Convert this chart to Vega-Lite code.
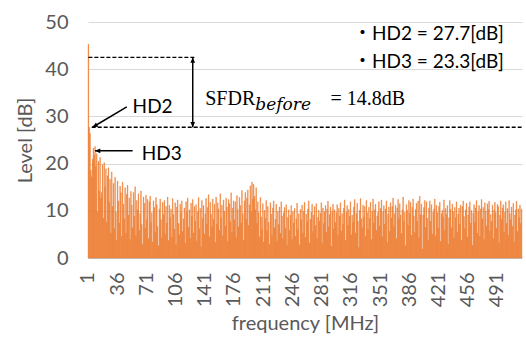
{
"$schema": "https://vega.github.io/schema/vega-lite/v6.json",
"width": 434, "height": 236,
"autosize": {"type": "none"},
"padding": {"left": 88, "top": 22, "right": 4, "bottom": 87},
"background": "white",
"config": {"view": {"stroke": null}, "font": "Lato"},
"layer": [
{"data": {"values": [
{"f":1,"v":45.3},{"f":2,"v":27.7},{"f":3,"v":26.4},{"f":4,"v":18.6},{"f":5,"v":17.2},{"f":6,"v":20.9},{"f":7,"v":23.3},{"f":8,"v":21.8},{"f":9,"v":23.6},{"f":10,"v":19.4},
{"f":11,"v":22.1},{"f":12,"v":9.8},{"f":13,"v":20.5},{"f":14,"v":14.2},{"f":15,"v":21.3},{"f":16,"v":12.7},{"f":17,"v":13.9},{"f":18,"v":19.8},{"f":19,"v":8.4},{"f":20,"v":20.2},
{"f":21,"v":15.1},{"f":22,"v":18.9},{"f":23,"v":7.6},{"f":24,"v":17.4},{"f":25,"v":19.1},{"f":26,"v":11.8},{"f":27,"v":16.7},{"f":28,"v":5.3},{"f":29,"v":18.2},
{"f":30,"v":10.9},{"f":31,"v":15.8},{"f":32,"v":6.2},{"f":33,"v":17.1},{"f":34,"v":9.7},{"f":35,"v":3.8},{"f":36,"v":16.3},{"f":37,"v":12.1},{"f":38,"v":7.4},{"f":39,"v":15.2},
{"f":40,"v":13.8},{"f":41,"v":4.6},{"f":42,"v":16.1},{"f":43,"v":11.4},{"f":44,"v":8.3},{"f":45,"v":14.9},{"f":46,"v":5.2},{"f":47,"v":13.5},{"f":48,"v":15.4},{"f":49,"v":9.1},
{"f":50,"v":12.7},{"f":51,"v":3.9},{"f":52,"v":14.1},{"f":53,"v":11.2},{"f":54,"v":6.4},{"f":55,"v":13.9},{"f":56,"v":8.8},{"f":57,"v":15.1},{"f":58,"v":4.7},{"f":59,"v":12.2},
{"f":60,"v":10.3},{"f":61,"v":13.6},{"f":62,"v":5.8},{"f":63,"v":9.4},{"f":64,"v":14.2},{"f":65,"v":7.1},{"f":66,"v":2.9},{"f":67,"v":12.9},{"f":68,"v":11.6},{"f":69,"v":6.3},
{"f":70,"v":13.3},{"f":71,"v":8.2},{"f":72,"v":12.4},{"f":73,"v":4.1},{"f":74,"v":11.9},{"f":75,"v":13.1},{"f":76,"v":7.6},{"f":77,"v":9.6},{"f":78,"v":3.4},{"f":79,"v":12.1},
{"f":80,"v":10.7},{"f":81,"v":5.5},{"f":82,"v":12.8},{"f":83,"v":11.3},{"f":84,"v":6.7},{"f":85,"v":2.6},{"f":86,"v":10.4},{"f":87,"v":12.5},{"f":88,"v":8.1},{"f":89,"v":4.3},
{"f":90,"v":11.8},{"f":91,"v":9.2},{"f":92,"v":12.2},{"f":93,"v":5.1},{"f":94,"v":10.9},{"f":95,"v":7.4},{"f":96,"v":12.9},{"f":97,"v":3.7},{"f":98,"v":11.2},{"f":99,"v":8.6},
{"f":100,"v":10.3},{"f":101,"v":4.4},{"f":102,"v":12.6},{"f":103,"v":9.2},{"f":104,"v":6.1},{"f":105,"v":11.7},{"f":106,"v":2.8},{"f":107,"v":10.8},{"f":108,"v":12.3},{"f":109,"v":7.3},
{"f":110,"v":4.9},{"f":111,"v":11.4},{"f":112,"v":9.5},{"f":113,"v":12.1},{"f":114,"v":5.6},{"f":115,"v":8.3},{"f":116,"v":10.6},{"f":117,"v":3.1},{"f":118,"v":11.9},{"f":119,"v":9.7},
{"f":120,"v":12.7},{"f":121,"v":6.5},{"f":122,"v":10.2},{"f":123,"v":4.2},{"f":124,"v":11.6},{"f":125,"v":8.9},{"f":126,"v":12.4},{"f":127,"v":5.3},{"f":128,"v":10.9},{"f":129,"v":7.8},
{"f":130,"v":11.3},{"f":131,"v":3.6},{"f":132,"v":9.8},{"f":133,"v":12.8},{"f":134,"v":6.2},{"f":135,"v":10.5},{"f":136,"v":2.4},{"f":137,"v":12.2},{"f":138,"v":8.4},{"f":139,"v":11.1},
{"f":140,"v":5.1},{"f":141,"v":9.4},{"f":142,"v":12.6},{"f":143,"v":7.2},{"f":144,"v":10.7},{"f":145,"v":13.4},{"f":146,"v":4.5},{"f":147,"v":11.8},{"f":148,"v":9.3},{"f":149,"v":6.6},
{"f":150,"v":12.5},{"f":151,"v":8.2},{"f":152,"v":11.4},{"f":153,"v":3.3},{"f":154,"v":12.9},{"f":155,"v":7.1},{"f":156,"v":11.7},{"f":157,"v":10.4},{"f":158,"v":5.9},{"f":159,"v":13.6},
{"f":160,"v":8.5},{"f":161,"v":11.2},{"f":162,"v":4.7},{"f":163,"v":12.3},{"f":164,"v":9.9},{"f":165,"v":6.8},{"f":166,"v":12.7},{"f":167,"v":10.8},{"f":168,"v":3.5},{"f":169,"v":12.4},
{"f":170,"v":11.5},{"f":171,"v":7.7},{"f":172,"v":13.8},{"f":173,"v":5.4},{"f":174,"v":10.6},{"f":175,"v":12.1},{"f":176,"v":8.1},{"f":177,"v":11.9},{"f":178,"v":4.3},{"f":179,"v":13.2},
{"f":180,"v":10.3},{"f":181,"v":6.6},{"f":182,"v":12.8},{"f":183,"v":11.1},{"f":184,"v":7.4},{"f":185,"v":14.3},{"f":186,"v":9.4},{"f":187,"v":3.8},{"f":188,"v":12.1},{"f":189,"v":13.9},
{"f":190,"v":8.2},{"f":191,"v":12.7},{"f":192,"v":14.4},{"f":193,"v":6.9},{"f":194,"v":11.3},{"f":195,"v":15.3},{"f":196,"v":9.8},{"f":197,"v":16.1},{"f":198,"v":12.5},{"f":199,"v":15.6},
{"f":200,"v":13.1},{"f":201,"v":10.2},{"f":202,"v":14.9},{"f":203,"v":7.3},{"f":204,"v":11.9},{"f":205,"v":9.6},{"f":206,"v":4.5},{"f":207,"v":12.8},{"f":208,"v":8.7},{"f":209,"v":6.1},
{"f":210,"v":11.5},{"f":211,"v":3.4},{"f":212,"v":10.1},{"f":213,"v":8.4},{"f":214,"v":12.2},{"f":215,"v":5.7},{"f":216,"v":10.9},{"f":217,"v":7.6},{"f":218,"v":2.9},{"f":219,"v":11.7},
{"f":220,"v":9.3},{"f":221,"v":4.8},{"f":222,"v":10.6},{"f":223,"v":12.1},{"f":224,"v":6.4},{"f":225,"v":8.2},{"f":226,"v":11.4},{"f":227,"v":3.6},{"f":228,"v":9.9},{"f":229,"v":7.1},
{"f":230,"v":10.8},{"f":231,"v":5.2},{"f":232,"v":11.9},{"f":233,"v":8.9},{"f":234,"v":4.1},{"f":235,"v":9.6},{"f":236,"v":10.7},{"f":237,"v":6.3},{"f":238,"v":11.3},{"f":239,"v":2.7},
{"f":240,"v":8.6},{"f":241,"v":10.2},{"f":242,"v":5.9},{"f":243,"v":9.1},{"f":244,"v":11.1},{"f":245,"v":3.9},{"f":246,"v":9.8},{"f":247,"v":7.4},{"f":248,"v":10.5},{"f":249,"v":4.6},
{"f":250,"v":8.3},{"f":251,"v":11.6},{"f":252,"v":6.1},{"f":253,"v":9.4},{"f":254,"v":2.8},{"f":255,"v":10.3},{"f":256,"v":8.1},{"f":257,"v":11.2},{"f":258,"v":5.3},{"f":259,"v":9.9},
{"f":260,"v":11.8},{"f":261,"v":4.4},{"f":262,"v":9.3},{"f":263,"v":7.7},{"f":264,"v":10.4},{"f":265,"v":12.1},{"f":266,"v":3.2},{"f":267,"v":8.2},{"f":268,"v":9.7},{"f":269,"v":11.4},
{"f":270,"v":5.6},{"f":271,"v":9.1},{"f":272,"v":10.9},{"f":273,"v":6.9},{"f":274,"v":11.5},{"f":275,"v":4.2},{"f":276,"v":8.6},{"f":277,"v":10.1},{"f":278,"v":7.8},{"f":279,"v":9.5},
{"f":280,"v":11.7},{"f":281,"v":3.1},{"f":282,"v":10.6},{"f":283,"v":7.3},{"f":284,"v":9.8},{"f":285,"v":11.1},{"f":286,"v":5.4},{"f":287,"v":10.4},{"f":288,"v":12.0},{"f":289,"v":6.6},
{"f":290,"v":9.2},{"f":291,"v":10.8},{"f":292,"v":2.5},{"f":293,"v":9.9},{"f":294,"v":11.4},{"f":295,"v":6.2},{"f":296,"v":10.2},{"f":297,"v":7.5},{"f":298,"v":9.6},{"f":299,"v":11.3},
{"f":300,"v":4.8},{"f":301,"v":10.5},{"f":302,"v":8.9},{"f":303,"v":11.7},{"f":304,"v":5.7},{"f":305,"v":9.4},{"f":306,"v":7.2},{"f":307,"v":10.6},{"f":308,"v":12.3},{"f":309,"v":3.7},
{"f":310,"v":9.7},{"f":311,"v":11.1},{"f":312,"v":6.9},{"f":313,"v":10.3},{"f":314,"v":8.8},{"f":315,"v":11.9},{"f":316,"v":4.9},{"f":317,"v":9.1},{"f":318,"v":7.6},{"f":319,"v":10.8},
{"f":320,"v":12.4},{"f":321,"v":5.3},{"f":322,"v":9.5},{"f":323,"v":11.6},{"f":324,"v":7.8},{"f":325,"v":2.2},{"f":326,"v":10.1},{"f":327,"v":12.6},{"f":328,"v":8.3},{"f":329,"v":6.4},
{"f":330,"v":11.2},{"f":331,"v":8.7},{"f":332,"v":10.9},{"f":333,"v":4.6},{"f":334,"v":12.2},{"f":335,"v":9.6},{"f":336,"v":6.1},{"f":337,"v":10.7},{"f":338,"v":8.4},{"f":339,"v":11.8},
{"f":340,"v":3.9},{"f":341,"v":9.9},{"f":342,"v":12.5},{"f":343,"v":7.4},{"f":344,"v":10.2},{"f":345,"v":11.4},{"f":346,"v":5.8},{"f":347,"v":8.9},{"f":348,"v":9.7},{"f":349,"v":11.9},
{"f":350,"v":6.8},{"f":351,"v":10.5},{"f":352,"v":12.3},{"f":353,"v":4.5},{"f":354,"v":9.8},{"f":355,"v":11.1},{"f":356,"v":7.2},{"f":357,"v":10.4},{"f":358,"v":12.1},{"f":359,"v":3.3},
{"f":360,"v":9.3},{"f":361,"v":10.8},{"f":362,"v":5.6},{"f":363,"v":11.7},{"f":364,"v":8.5},{"f":365,"v":10.9},{"f":366,"v":12.7},{"f":367,"v":6.7},{"f":368,"v":9.4},{"f":369,"v":11.2},
{"f":370,"v":4.1},{"f":371,"v":10.6},{"f":372,"v":12.4},{"f":373,"v":8.3},{"f":374,"v":11.5},{"f":375,"v":9.1},{"f":376,"v":5.2},{"f":377,"v":10.2},{"f":378,"v":12.9},{"f":379,"v":7.7},
{"f":380,"v":9.7},{"f":381,"v":2.6},{"f":382,"v":11.3},{"f":383,"v":10.1},{"f":384,"v":6.9},{"f":385,"v":12.2},{"f":386,"v":9.5},{"f":387,"v":11.8},{"f":388,"v":4.8},{"f":389,"v":10.7},
{"f":390,"v":12.5},{"f":391,"v":8.9},{"f":392,"v":5.4},{"f":393,"v":10.3},{"f":394,"v":11.6},{"f":395,"v":7.8},{"f":396,"v":12.1},{"f":397,"v":4.3},{"f":398,"v":13.1},{"f":399,"v":9.2},
{"f":400,"v":11.4},{"f":401,"v":1.9},{"f":402,"v":9.1},{"f":403,"v":10.7},{"f":404,"v":12.2},{"f":405,"v":6.5},{"f":406,"v":11.9},{"f":407,"v":8.4},{"f":408,"v":3.8},{"f":409,"v":10.6},
{"f":410,"v":12.1},{"f":411,"v":7.8},{"f":412,"v":11.3},{"f":413,"v":5.1},{"f":414,"v":9.7},{"f":415,"v":10.4},{"f":416,"v":12.5},{"f":417,"v":4.7},{"f":418,"v":11.2},{"f":419,"v":9.6},
{"f":420,"v":6.3},{"f":421,"v":10.9},{"f":422,"v":11.8},{"f":423,"v":3.5},{"f":424,"v":9.4},{"f":425,"v":10.1},{"f":426,"v":8.7},{"f":427,"v":12.3},{"f":428,"v":5.9},{"f":429,"v":10.5},
{"f":430,"v":9.2},{"f":431,"v":11.1},{"f":432,"v":2.9},{"f":433,"v":8.5},{"f":434,"v":12.2},{"f":435,"v":10.3},{"f":436,"v":6.4},{"f":437,"v":11.4},{"f":438,"v":9.8},{"f":439,"v":4.2},
{"f":440,"v":10.7},{"f":441,"v":8.6},{"f":442,"v":11.9},{"f":443,"v":5.5},{"f":444,"v":9.3},{"f":445,"v":10.6},{"f":446,"v":7.1},{"f":447,"v":11.2},{"f":448,"v":3.7},{"f":449,"v":10.9},
{"f":450,"v":12.1},{"f":451,"v":8.8},{"f":452,"v":6.2},{"f":453,"v":10.2},{"f":454,"v":11.6},{"f":455,"v":4.4},{"f":456,"v":9.1},{"f":457,"v":10.8},{"f":458,"v":11.9},{"f":459,"v":7.4},
{"f":460,"v":10.1},{"f":461,"v":2.7},{"f":462,"v":9.5},{"f":463,"v":11.3},{"f":464,"v":7.6},{"f":465,"v":10.6},{"f":466,"v":12.2},{"f":467,"v":5.3},{"f":468,"v":9.8},{"f":469,"v":11.1},
{"f":470,"v":4.6},{"f":471,"v":10.4},{"f":472,"v":12.4},{"f":473,"v":8.3},{"f":474,"v":10.7},{"f":475,"v":3.9},{"f":476,"v":11.7},{"f":477,"v":9.9},{"f":478,"v":6.8},{"f":479,"v":11.5},
{"f":480,"v":10.3},{"f":481,"v":12.0},{"f":482,"v":5.7},{"f":483,"v":9.2},{"f":484,"v":7.8},{"f":485,"v":11.2},{"f":486,"v":4.1},{"f":487,"v":10.1},{"f":488,"v":11.8},{"f":489,"v":9.6},
{"f":490,"v":6.3},{"f":491,"v":11.4},{"f":492,"v":10.9},{"f":493,"v":3.2},{"f":494,"v":9.1},{"f":495,"v":12.1},{"f":496,"v":8.2},{"f":497,"v":10.6},{"f":498,"v":11.3},{"f":499,"v":5.4},
{"f":500,"v":9.7},{"f":501,"v":11.9},{"f":502,"v":7.3},{"f":503,"v":10.5},{"f":504,"v":4.8},{"f":505,"v":12.2},{"f":506,"v":9.4},{"f":507,"v":8.1},{"f":508,"v":10.8},{"f":509,"v":6.7},
{"f":510,"v":11.6},{"f":511,"v":3.4},{"f":512,"v":9.1},{"f":513,"v":10.2},{"f":514,"v":12.0},{"f":515,"v":5.6},{"f":516,"v":10.4},{"f":517,"v":8.6},{"f":518,"v":11.2},{"f":519,"v":7.3},
{"f":520,"v":10.4}
]},
 "mark": {"type": "bar", "color": "#ED7D31", "stroke": "#ED7D31", "strokeWidth": 0.35},
 "encoding": {
  "x": {"field": "f", "type": "ordinal", "scale": {"paddingInner": 0.1, "paddingOuter": 0},
   "axis": {"values": [1,36,71,106,141,176,211,246,281,316,351,386,421,456,491], "labelAngle": -90, "labelFont": "Lato", "labelFontSize": 20, "labelColor": "#595959", "labelPadding": 14, "ticks": false, "domainColor": "#BFBFBF", "grid": false,
    "title": "frequency [MHz]", "titleFont": "Lato", "titleFontSize": 20, "titleFontWeight": "normal", "titleColor": "#595959", "titlePadding": 7}},
  "y": {"field": "v", "type": "quantitative", "scale": {"domain": [0, 50], "nice": false},
   "axis": {"values": [0,10,20,30,40,50], "domain": false, "ticks": false, "grid": true, "gridColor": "#D9D9D9", "labelFont": "Lato", "labelFontSize": 20, "labelColor": "#595959", "labelPadding": 20,
    "title": "Level [dB]", "titleFont": "Lato", "titleFontSize": 20, "titleFontWeight": "normal", "titleColor": "#595959", "titlePadding": 9}}
 }},
{"data": {"values": [{"f": 1, "f2": 128, "v": 42.5}, {"f": 5, "f2": 520, "v": 27.7}]},
 "mark": {"type": "rule", "color": "black", "strokeDash": [4, 2], "strokeWidth": 1.3},
 "encoding": {"x": {"field": "f", "type": "ordinal"}, "x2": {"field": "f2"}, "y": {"field": "v", "type": "quantitative"}}},
{"data": {"values": [{"f": 126, "v": 42.5, "v2": 27.7}]},
 "mark": {"type": "rule", "color": "black", "strokeWidth": 1.5},
 "encoding": {"x": {"field": "f", "type": "ordinal"}, "y": {"field": "v", "type": "quantitative"}, "y2": {"field": "v2"}}},
{"data": {"values": [{"f": 47, "f2": 6, "v": 32.0, "v2": 27.7}]},
 "mark": {"type": "rule", "color": "black", "strokeWidth": 1.5},
 "encoding": {"x": {"field": "f", "type": "ordinal"}, "x2": {"field": "f2"}, "y": {"field": "v", "type": "quantitative"}, "y2": {"field": "v2"}}},
{"data": {"values": [{"f": 54, "f2": 9, "v": 22.7}]},
 "mark": {"type": "rule", "color": "black", "strokeWidth": 1.5},
 "encoding": {"x": {"field": "f", "type": "ordinal"}, "x2": {"field": "f2"}, "y": {"field": "v", "type": "quantitative"}}},
{"data": {"values": [{"f": 126, "v": 42.5}]},
 "mark": {"type": "point", "shape": "M0,0L-0.45,1L0.45,1Z", "angle": 0, "size": 110, "filled": true, "color": "black", "opacity": 1},
 "encoding": {"x": {"field": "f", "type": "ordinal"}, "y": {"field": "v", "type": "quantitative"}}},
{"data": {"values": [{"f": 126, "v": 27.7}]},
 "mark": {"type": "point", "shape": "M0,0L-0.45,1L0.45,1Z", "angle": 180, "size": 110, "filled": true, "color": "black", "opacity": 1},
 "encoding": {"x": {"field": "f", "type": "ordinal"}, "y": {"field": "v", "type": "quantitative"}}},
{"data": {"values": [{"f": 6, "v": 27.7}]},
 "mark": {"type": "point", "shape": "M0,0L-0.45,1L0.45,1Z", "angle": 240, "size": 110, "filled": true, "color": "black", "opacity": 1},
 "encoding": {"x": {"field": "f", "type": "ordinal"}, "y": {"field": "v", "type": "quantitative"}}},
{"data": {"values": [{"f": 9, "v": 22.7}]},
 "mark": {"type": "point", "shape": "M0,0L-0.45,1L0.45,1Z", "angle": 270, "size": 110, "filled": true, "color": "black", "opacity": 1},
 "encoding": {"x": {"field": "f", "type": "ordinal"}, "y": {"field": "v", "type": "quantitative"}}},
{"data": {"values": [{"f": 54, "v": 32.0, "t": "HD2"}, {"f": 65, "v": 22.0, "t": "HD3"}, {"f": 318, "v": 47.4, "t": "・HD2 = 27.7[dB]"}, {"f": 318, "v": 41.5, "t": "・HD3 = 23.3[dB]"}]},
 "mark": {"type": "text", "align": "left", "baseline": "middle", "font": "Lato, Noto Sans CJK JP", "fontSize": 19, "color": "black"},
 "encoding": {"x": {"field": "f", "type": "ordinal"}, "y": {"field": "v", "type": "quantitative"}, "text": {"field": "t"}}},
{"data": {"values": [{"f": 141, "v": 33.7, "t": "SFDR"}, {"f": 291, "v": 33.7, "t": "= 14.8dB"}]},
 "mark": {"type": "text", "align": "left", "baseline": "middle", "font": "Liberation Serif", "fontSize": 20, "color": "black"},
 "encoding": {"x": {"field": "f", "type": "ordinal"}, "y": {"field": "v", "type": "quantitative"}, "text": {"field": "t"}}},
{"data": {"values": [{"f": 201, "v": 32.4, "t": "before"}]},
 "mark": {"type": "text", "align": "left", "baseline": "middle", "font": "DejaVu Serif", "fontStyle": "italic", "fontSize": 17, "color": "black"},
 "encoding": {"x": {"field": "f", "type": "ordinal"}, "y": {"field": "v", "type": "quantitative"}, "text": {"field": "t"}}}
]
}
